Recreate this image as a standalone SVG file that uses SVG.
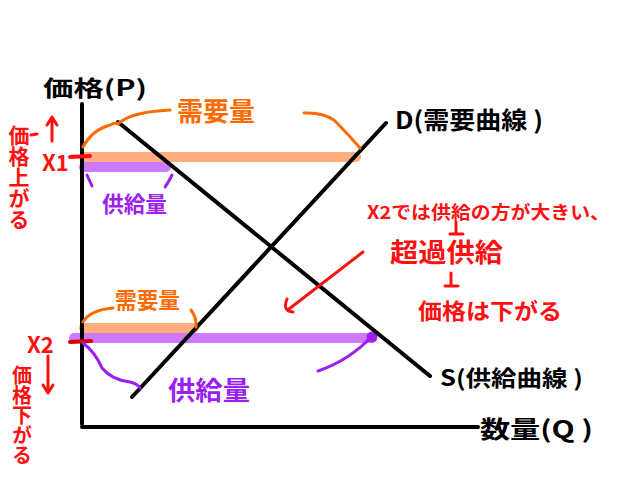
<svg xmlns="http://www.w3.org/2000/svg" width="620" height="480" viewBox="0 0 620 480">
<style>
text{font-family:"Noto Sans CJK JP","Noto Sans CJK SC",sans-serif;font-weight:bold}
.blk{fill:#000}
.red{fill:#FF1010}
.org{fill:#FF6A00}
.pur{fill:#9A1FF0}
.vt{writing-mode:vertical-rl}
.ax{stroke:#000;stroke-width:4;fill:none;stroke-linecap:round}
.ln{stroke:#000;stroke-width:4;fill:none;stroke-linecap:round}
.rs{stroke:#FF1010;stroke-width:3;fill:none;stroke-linecap:round;stroke-linejoin:round}
.os{stroke:#FF6A00;stroke-width:3;fill:none;stroke-linecap:round}
.ps{stroke:#9A1FF0;stroke-width:3;fill:none;stroke-linecap:round}
.bo{stroke:#FFAD7F;stroke-width:10;stroke-linecap:round}
.bp{stroke:#CC7BFF;stroke-width:10;stroke-linecap:round}
</style>
<rect width="620" height="480" fill="#fff"/>
<g id="bands">
<line class="bo" x1="84" y1="157" x2="356" y2="157"/>
<line class="bp" x1="84" y1="167" x2="166" y2="167"/>
<line class="bo" x1="84" y1="328" x2="194" y2="328"/>
<line class="bp" x1="74" y1="338" x2="372" y2="338"/>
<circle cx="372" cy="337" r="5.5" fill="#A020F0"/>
</g>
<g id="axes">
<line class="ax" x1="82" y1="104" x2="82" y2="424"/>
<line class="ax" x1="82" y1="427" x2="478" y2="427"/>
</g>
<g id="connectors">
<line id="demand" class="ln" x1="118" y1="122" x2="430" y2="376"/>
<line id="supply" class="ln" x1="132" y1="397" x2="386" y2="123"/>
<path class="rs" d="M363,252 L289,309 M287,299 Q282,311 293,312"/>
<path class="rs" d="M52,141 L52,118 M47,125 L52,117 L57,125"/>
<path class="rs" d="M48,356 L48,392 M43,385 L48,393 L53,385"/>
<path class="rs" d="M456,222 L456,234 M450,234 L463,234"/>
<path class="rs" d="M451,273 L451,286 M445,286 L458,286"/>
<path class="rs" d="M31,135 L37,134"/>
<line x1="70" y1="157" x2="90" y2="156" stroke="#FF1010" stroke-width="4" stroke-linecap="round"/>
<line x1="70" y1="342" x2="91" y2="341" stroke="#D80000" stroke-width="4" stroke-linecap="round"/>
<path class="os" d="M83,147 Q92,130 110,125 Q115,122 118,124 Q130,112 170,110"/>
<path class="os" d="M304,113 Q322,112 334,120 Q346,132 360,148"/>
<path class="os" d="M83,322 Q90,310 113,308"/>
<path class="os" d="M191,310 Q197,318 196,327"/>
<path class="ps" d="M87,175 L92,186"/>
<path class="ps" d="M172,175 Q168,183 165,187"/>
<path class="ps" d="M83,343 Q95,352 102,368 Q112,380 130,382 Q138,384 140,388"/>
<path class="ps" d="M372,336 Q350,360 318,371"/>
</g>
<g id="axis-labels">
<text class="blk" x="43" y="96" font-size="22" textLength="104" lengthAdjust="spacingAndGlyphs">価格(P)</text>
<text class="blk" x="395" y="129" font-size="24" textLength="148" lengthAdjust="spacingAndGlyphs">D(需要曲線 )</text>
<text class="blk" x="440" y="386" font-size="22" textLength="143" lengthAdjust="spacingAndGlyphs">S(供給曲線 )</text>
<text class="blk" x="480" y="438" font-size="24" textLength="113" lengthAdjust="spacingAndGlyphs">数量(Q )</text>
</g>
<g id="demand-labels">
<text class="org" x="177" y="121" font-size="26" textLength="78" lengthAdjust="spacingAndGlyphs">需要量</text>
<text class="org" x="115" y="308" font-size="22" textLength="65" lengthAdjust="spacingAndGlyphs">需要量</text>
</g>
<g id="supply-labels">
<text class="pur" x="102" y="212" font-size="22" textLength="65" lengthAdjust="spacingAndGlyphs">供給量</text>
<text class="pur" x="168" y="400" font-size="26" textLength="82" lengthAdjust="spacingAndGlyphs">供給量</text>
</g>
<g id="x1-note">
<text class="red" x="42" y="171" font-size="22">X1</text>
<text class="red vt" x="19" y="125" font-size="21">価格上がる</text>
</g>
<g id="x2-note">
<text class="red" x="27" y="353" font-size="22">X2</text>
<text class="red vt" x="22" y="365" font-size="20">価格下がる</text>
</g>
<g id="explanation">
<text class="red" x="367" y="219" font-size="18" textLength="243" lengthAdjust="spacingAndGlyphs">X2では供給の方が大きい、</text>
<text class="red" x="390" y="262" font-size="26" textLength="113" lengthAdjust="spacingAndGlyphs">超過供給</text>
<text class="red" x="418" y="319" font-size="22" textLength="144" lengthAdjust="spacingAndGlyphs">価格は下がる</text>
</g>
</svg>
